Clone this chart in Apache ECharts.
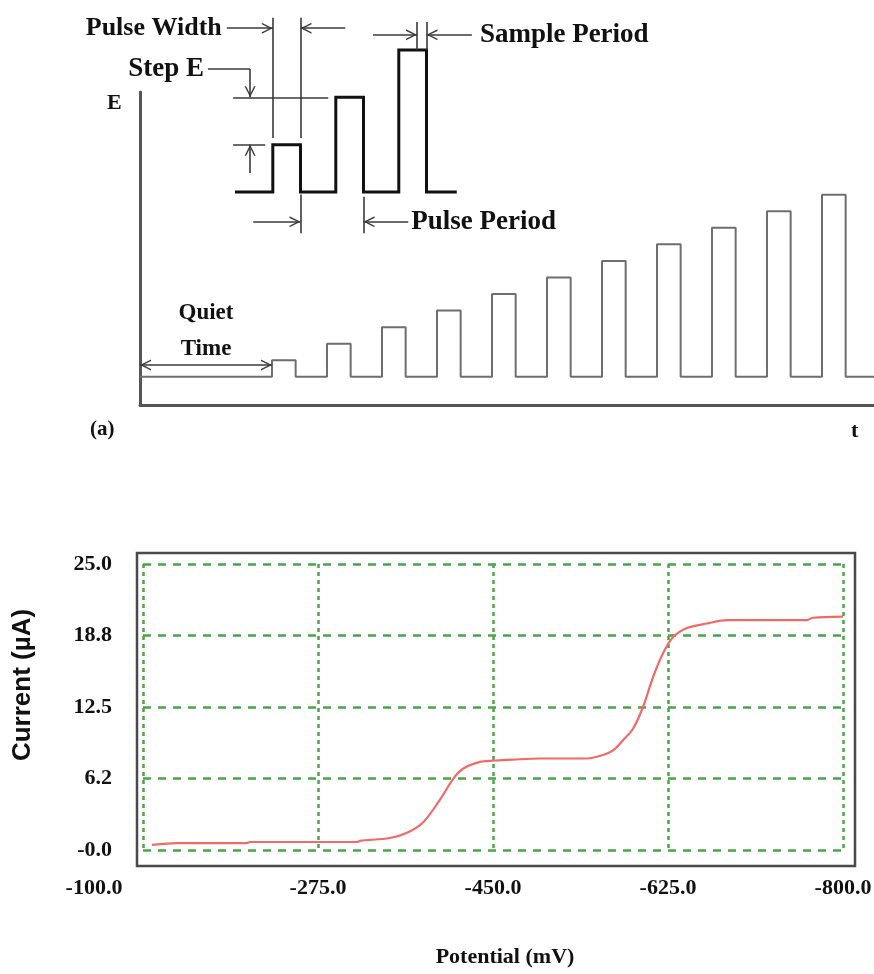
<!DOCTYPE html>
<html>
<head>
<meta charset="utf-8">
<title>Differential pulse waveform and voltammogram</title>
<script src="https://cdn.jsdelivr.net/npm/echarts@6/dist/echarts.min.js"></script>
<style>
  html, body { margin: 0; padding: 0; background: #fff; }
  #main { width: 874px; height: 974px; }
</style>
</head>
<body>
<div id="main"></div>
<script>
// ---- waveform schematic (a): ramp of pulses after a quiet period ----
const rampLevels = [1, 2, 3, 4, 5, 6, 7, 8, 9, 10, 11];
const quietTime = 2.4;
const rampPeriod = 1;
const rampWidth = 0.43;
const rampEnd = 13.4;

// ---- enlarged detail of three pulses ----
const detailLevels = [1, 2, 3];
const detailLead = 0.6;
const detailPeriod = 1;
const detailWidth = 0.44;
const detailEnd = 3.52;
const sampleSpan = 0.15;

// ---- voltammogram: current vs potential ----
const potential = [-109, -134, -204, -207, -314, -317, -347, -364, -380, -397, -410, -420, -437, -450,
  -470, -497, -520, -544, -560, -570, -580, -590, -600, -610, -620, -630, -644, -664, -684, -720, -764, -770, -800];
const current = [0.44, 0.6, 0.6, 0.7, 0.7, 0.8, 1.05, 1.5, 2.4, 4.4, 6.2, 7.1, 7.7, 7.8,
  7.9, 8.0, 8.0, 8.0, 8.3, 8.7, 9.6, 10.6, 12.5, 15.1, 17.2, 18.6, 19.4, 19.8, 20.1, 20.1, 20.1, 20.3, 20.4];
const potentialTicks = [-800, -625, -450, -275, -100];
const currentTickLabels = ['-0.0', '6.2', '12.5', '18.8', '25.0'];

const SERIF = '"Liberation Serif", "Times New Roman", serif';
const SANS = '"Liberation Sans", Arial, sans-serif';
const INK = '#111';
const GUIDE = '#3a3a3a';
const GRID_GREEN = '#4aa44a';

function pulseTrain(levels, start, period, width, end) {
  const pts = [[0, 0]];
  levels.forEach((lv, i) => {
    const t0 = start + i * period;
    pts.push([t0, 0], [t0, lv], [t0 + width, lv], [t0 + width, 0]);
  });
  pts.push([end, 0]);
  return pts;
}

// open chevron used as arrow head, tip pointing along the line
const arrowHead = 'path://M5,0L10,10L8.6,10L5,2.8L1.4,10L0,10Z';
function head() {
  return { symbol: arrowHead, symbolSize: [11, 11], symbolOffset: [0, '50%'] };
}
function seg(a, b, opts) {
  opts = opts || {};
  const from = Object.assign({ coord: a, symbol: 'none' }, opts.both ? head() : {});
  const to = Object.assign({ coord: b, symbol: 'none' }, (opts.arrow || opts.both) ? head() : {});
  if (opts.label) {
    from.label = Object.assign({
      show: true, color: INK, fontFamily: SERIF, fontWeight: 'bold', fontSize: 27
    }, opts.label);
  }
  return [from, to];
}

// guide geometry for the detail pulses (derived from the pulse parameters)
const p1s = detailLead, p1e = detailLead + detailWidth;
const p2s = p1s + detailPeriod, p2e = p1e + detailPeriod;
const p3e = p1e + 2 * detailPeriod, p3sample = p3e - sampleSpan;

const detailGuides = [
  // pulse width
  seg([p1s, 1.14], [p1s, 3.68]),
  seg([p1e, 1.14], [p1e, 3.68]),
  seg([-0.13, 3.46], [p1s, 3.46], { arrow: true, label: { position: 'start', formatter: 'Pulse Width', distance: 5, fontSize: 26 } }),
  seg([1.75, 3.46], [p1e, 3.46], { arrow: true }),
  // step E
  seg([-0.03, detailLevels[1]], [p2s - 0.12, detailLevels[1]]),
  seg([-0.43, 2.6], [0.24, 2.6], { label: { position: 'start', formatter: 'Step E', distance: 4 } }),
  seg([0.24, 2.6], [0.24, detailLevels[1]], { arrow: true }),
  seg([0.24, 0.4], [0.24, detailLevels[0]], { arrow: true }),
  seg([-0.03, detailLevels[0]], [0.48, detailLevels[0]]),
  // sample period
  seg([p3sample, detailLevels[2]], [p3sample, 3.59]),
  seg([p3e, detailLevels[2]], [p3e, 3.59]),
  seg([2.19, 3.32], [p3sample, 3.32], { arrow: true }),
  seg([3.76, 3.32], [p3e, 3.32], { arrow: true, label: { position: 'start', formatter: 'Sample Period', distance: 8 } }),
  // pulse period
  seg([p1e, -0.05], [p1e, -0.87]),
  seg([p2e, -0.1], [p2e, -0.87]),
  seg([0.29, -0.63], [p1e, -0.63], { arrow: true }),
  seg([2.75, -0.63], [p2e, -0.63], { arrow: true, label: { position: 'start', formatter: 'Pulse Period', distance: 3 } })
];

const quietGuide = [
  seg([0, 0.72], [quietTime, 0.72], {
    both: true,
    label: { position: 'middle', formatter: 'Quiet\nTime', fontSize: 23, lineHeight: 36, distance: -2 }
  })
];

const hiddenAxis = { show: false };

const option = {
  backgroundColor: '#fff',
  animation: false,
  grid: [
    { left: 140, top: 92, width: 737, height: 313, outerBoundsMode: 'none', containLabel: false },
    { left: 203.5, top: 2.67, width: 283.5, height: 236.7, outerBoundsMode: 'none', containLabel: false },
    { left: 143, top: 564, width: 700, height: 286, outerBoundsMode: 'none', containLabel: false }
  ],
  xAxis: [
    {
      gridIndex: 0, type: 'value', min: 0, max: rampEnd,
      axisLine: { show: true, onZero: false, lineStyle: { color: '#555', width: 3 } },
      axisTick: { show: false }, axisLabel: { show: false }, splitLine: { show: false }
    },
    Object.assign({ gridIndex: 1, type: 'value', min: -0.5, max: 4.0 }, hiddenAxis),
    {
      gridIndex: 2, type: 'value', min: -800, max: -100, interval: 175, inverse: true,
      axisLine: { show: false }, axisTick: { show: false },
      splitLine: { show: true, lineStyle: { color: GRID_GREEN, width: 2.5, type: [4, 4] } },
      axisLabel: {
        margin: 27, color: INK, fontFamily: SERIF, fontWeight: 'bold', fontSize: 22,
        formatter: function (v) {
          const s = v.toFixed(1);
          return v === potentialTicks[potentialTicks.length - 1] ? '{first|' + s + '}' : s;
        },
        rich: { first: { padding: [0, 98, 0, 0], color: INK, fontFamily: SERIF, fontWeight: 'bold', fontSize: 22 } }
      },
      name: 'Potential (mV)', nameLocation: 'middle', nameGap: 96,
      nameTextStyle: { color: INK, fontFamily: SERIF, fontWeight: 'bold', fontSize: 22, padding: [0, 0, 0, 24] }
    }
  ],
  yAxis: [
    {
      gridIndex: 0, type: 'value', min: -1.7, max: 17.2,
      axisLine: { show: true, onZero: false, lineStyle: { color: '#555', width: 3 } },
      axisTick: { show: false }, axisLabel: { show: false }, splitLine: { show: false }
    },
    Object.assign({ gridIndex: 1, type: 'value', min: -1, max: 4 }, hiddenAxis),
    {
      gridIndex: 2, type: 'value', min: 0, max: 25, interval: 6.25,
      axisLine: { show: false }, axisTick: { show: false },
      splitLine: { show: true, lineStyle: { color: GRID_GREEN, width: 2.5, type: [8, 7] } },
      axisLabel: {
        margin: 31, color: INK, fontFamily: SERIF, fontWeight: 'bold', fontSize: 22,
        formatter: function (v) { return currentTickLabels[Math.round(v / 6.25)]; }
      },
      name: 'Current (\u00b5A)', nameLocation: 'middle', nameGap: 107,
      nameTextStyle: { color: INK, fontFamily: SANS, fontWeight: 'bold', fontSize: 26, padding: [0, 0, 0, 44] }
    }
  ],
  series: [
    {
      type: 'line', xAxisIndex: 0, yAxisIndex: 0,
      data: pulseTrain(rampLevels, quietTime, rampPeriod, rampWidth, rampEnd),
      symbol: 'none', silent: true,
      lineStyle: { color: '#6e6e6e', width: 2 },
      markLine: {
        silent: true, symbol: 'none', animation: false,
        label: { show: false },
        lineStyle: { color: GUIDE, width: 1.6, type: 'solid' },
        emphasis: { disabled: true },
        data: quietGuide
      }
    },
    {
      type: 'line', xAxisIndex: 1, yAxisIndex: 1,
      data: pulseTrain(detailLevels, detailLead, detailPeriod, detailWidth, detailEnd),
      symbol: 'none', silent: true,
      lineStyle: { color: '#111', width: 3, join: 'miter' },
      markLine: {
        silent: true, symbol: 'none', animation: false,
        label: { show: false },
        lineStyle: { color: GUIDE, width: 1.6, type: 'solid' },
        emphasis: { disabled: true },
        data: detailGuides
      }
    },
    {
      type: 'line', xAxisIndex: 2, yAxisIndex: 2,
      data: potential.map((p, i) => [p, current[i]]),
      symbol: 'none', smooth: 0.3, silent: true,
      lineStyle: { color: '#f06a6a', width: 2.2 }
    }
  ],
  graphic: [
    { type: 'text', left: 107, top: 92, style: { text: 'E', font: 'bold 22px ' + SERIF, fill: INK } },
    { type: 'text', left: 851, top: 420, style: { text: 't', font: 'bold 22px ' + SERIF, fill: INK } },
    { type: 'text', left: 90, top: 419, style: { text: '(a)', font: 'bold 21px ' + SERIF, fill: INK } },
    {
      type: 'rect', shape: { x: 137, y: 553, width: 718, height: 313 },
      style: { fill: 'none', stroke: '#4a4a4a', lineWidth: 2.5 }, silent: true, z: 10
    }
  ]
};

const chart = echarts.init(document.getElementById('main'), null, { renderer: 'canvas' });
chart.setOption(option);
</script>
</body>
</html>
